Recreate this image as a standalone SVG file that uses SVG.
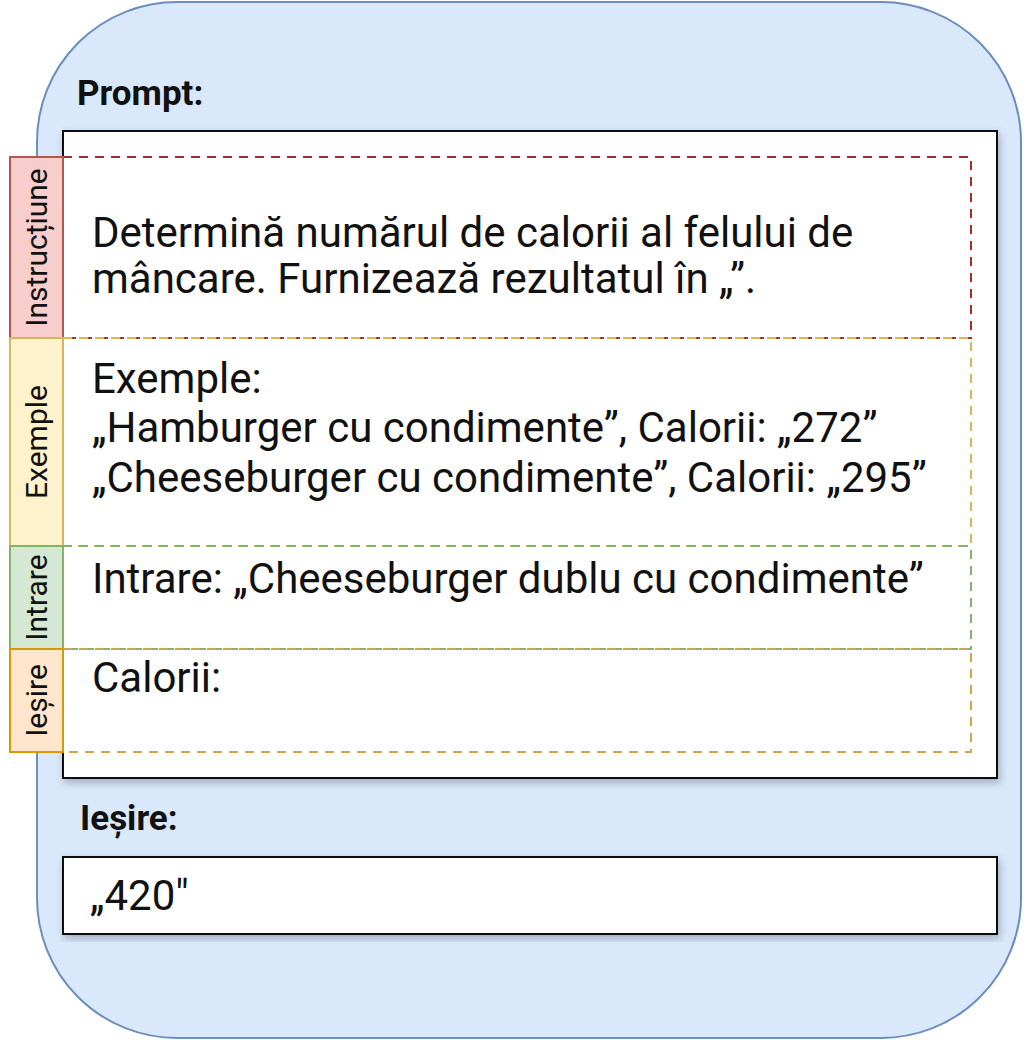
<svg xmlns="http://www.w3.org/2000/svg" width="1024" height="1040" viewBox="0 0 1024 1040">
<defs>
<filter id="sh" x="-5%" y="-5%" width="110%" height="115%">
<feDropShadow dx="2" dy="4" stdDeviation="4" flood-color="#000" flood-opacity="0.25"/>
</filter>
</defs>
<style>
.t{font-family:Roboto,"Liberation Sans",sans-serif;font-size:42px;fill:#111}
.h{font-family:Roboto,"Liberation Sans",sans-serif;font-size:35px;font-weight:bold;fill:#111}
.tab{font-family:Roboto,"Liberation Sans",sans-serif;font-size:30px;fill:#111}
.d{fill:none;stroke-width:2;stroke-dasharray:9 7}
</style>
<rect id="bg" width="1024" height="1040" fill="#fff"/>
<g id="container">
<rect x="37" y="2" width="984" height="1036" rx="140" ry="140" fill="#dae8fc" stroke="#6c8ebf" stroke-width="2"/>
<text class="h" x="77" y="105">Prompt:</text>
<text class="h" x="80" y="830">Ieșire:</text>
</g>
<g id="prompt-box">
<rect x="63" y="131" width="934" height="647" fill="#fff" stroke="#111" stroke-width="2" filter="url(#sh)"/>
</g>
<g id="sections">
<rect class="d" x="63" y="157" width="908" height="181" stroke="#a0302c"/>
<rect class="d" x="63" y="338" width="908" height="208" stroke="#d6b656"/>
<rect class="d" x="63" y="546" width="908" height="103" stroke="#82b366"/>
<rect class="d" x="63" y="649" width="908" height="103" stroke="#d6a24a"/>
</g>
<g id="tab-instructiune">
<rect x="10" y="157" width="53" height="181" fill="#f8cecc" stroke="#b85450" stroke-width="2"/>
<text class="tab" transform="translate(47,247.5) rotate(-90)" text-anchor="middle">Instrucțiune</text>
</g>
<g id="tab-exemple">
<rect x="10" y="338" width="53" height="208" fill="#fff2cc" stroke="#d6b656" stroke-width="2"/>
<text class="tab" transform="translate(47,442) rotate(-90)" text-anchor="middle">Exemple</text>
</g>
<g id="tab-intrare">
<rect x="10" y="546" width="53" height="103" fill="#d5e8d4" stroke="#82b366" stroke-width="2"/>
<text class="tab" transform="translate(47,597.5) rotate(-90)" text-anchor="middle">Intrare</text>
</g>
<g id="tab-iesire">
<rect x="10" y="649" width="53" height="103" fill="#ffe6cc" stroke="#d79b00" stroke-width="2"/>
<text class="tab" transform="translate(47,700.5) rotate(-90)" text-anchor="middle">Ieșire</text>
</g>
<g id="prompt-text">
<text class="t" x="92" y="247">Determină numărul de calorii al felului de</text>
<text class="t" x="92" y="293">mâncare. Furnizează rezultatul în „”.</text>
<text class="t" x="92" y="393">Exemple:</text>
<text class="t" x="92" y="442">„Hamburger cu condimente”, Calorii: „272”</text>
<text class="t" x="92" y="492">„Cheeseburger cu condimente”, Calorii: „295”</text>
<text class="t" x="92" y="593">Intrare: „Cheeseburger dublu cu condimente”</text>
<text class="t" x="92" y="692">Calorii:</text>
</g>
<g id="output-box">
<rect x="63" y="857" width="934" height="77" fill="#fff" stroke="#111" stroke-width="2" filter="url(#sh)"/>
<text class="t" x="90" y="910">„420"</text>
</g>
<g id="connectors"/>
</svg>
